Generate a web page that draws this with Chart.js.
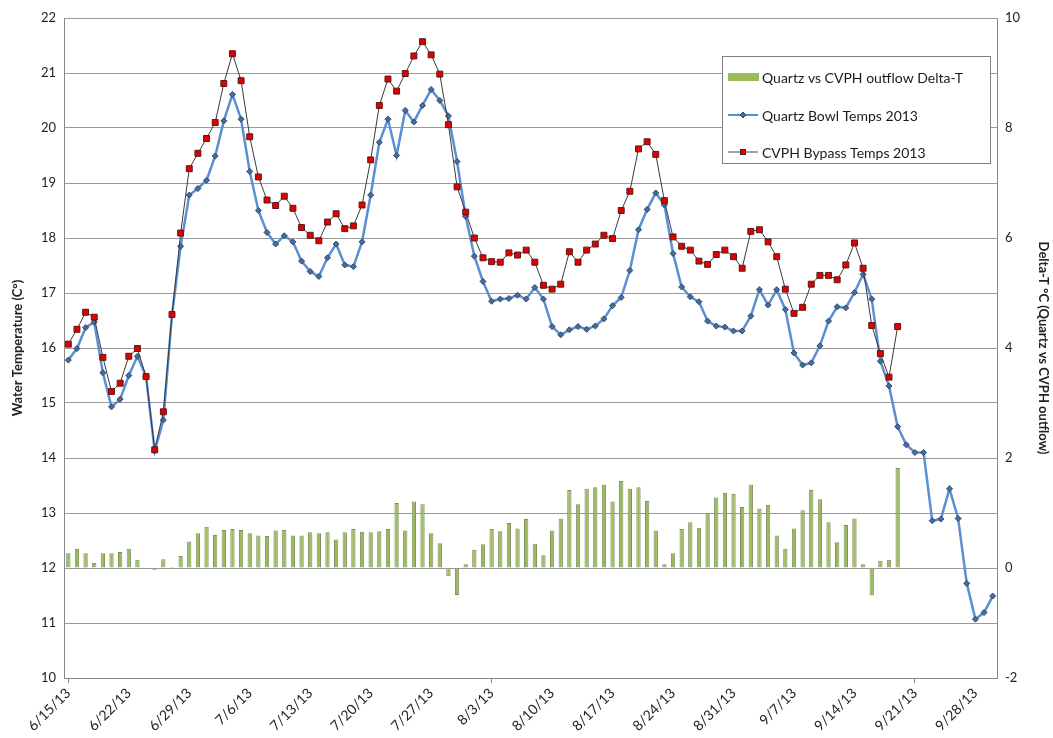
<!DOCTYPE html>
<html>
<head>
<meta charset="utf-8">
<script src="https://cdn.jsdelivr.net/npm/chart.js@4.4.0/dist/chart.umd.min.js"></script>
<style>
  html, body { margin: 0; padding: 0; background: #fff; }
</style>
</head>
<body>
<canvas id="myChart" width="1053" height="738"></canvas>
<script>
// daily categories 6/15/13 .. 9/30/13
const dates = [];
for (let i = 0; i < 108; i++) {
  const d = new Date(2013, 5, 15 + i);
  dates.push((d.getMonth() + 1) + '/' + d.getDate() + '/13');
}
const tickDates = ['6/15/13','6/22/13','6/29/13','7/6/13','7/13/13','7/20/13','7/27/13','8/3/13',
  '8/10/13','8/17/13','8/24/13','8/31/13','9/7/13','9/14/13','9/21/13','9/28/13'];

const quartzTemps = [15.78,15.99,16.37,16.47,15.55,14.93,15.07,15.50,15.85,15.48,
  14.13,14.69,16.60,17.85,18.78,18.90,19.05,19.49,20.13,20.61,
  20.16,19.21,18.50,18.10,17.89,18.04,17.93,17.58,17.39,17.30,
  17.64,17.89,17.51,17.48,17.93,18.78,19.74,20.16,19.50,20.32,
  20.11,20.41,20.70,20.50,20.22,19.39,18.39,17.67,17.21,16.85,
  16.89,16.90,16.96,16.89,17.10,16.89,16.39,16.24,16.33,16.39,
  16.34,16.40,16.53,16.77,16.92,17.41,18.15,18.52,18.82,18.60,
  17.72,17.11,16.93,16.84,16.49,16.40,16.38,16.31,16.31,16.58,
  17.06,16.78,17.06,16.70,15.91,15.69,15.73,16.04,16.49,16.75,
  16.73,17.01,17.34,16.89,15.76,15.31,14.57,14.24,14.10,14.10,
  12.86,12.89,13.44,12.90,11.72,11.07,11.19,11.49];

const cvphTemps = [16.07,16.34,16.65,16.56,15.83,15.21,15.36,15.85,15.99,15.48,
  14.15,14.84,16.61,18.09,19.26,19.54,19.81,20.10,20.81,21.35,
  20.86,19.84,19.11,18.69,18.59,18.76,18.54,18.19,18.05,17.95,
  18.29,18.44,18.17,18.22,18.60,19.42,20.41,20.89,20.67,20.99,
  21.31,21.57,21.33,20.98,20.06,18.93,18.47,18.00,17.64,17.57,
  17.56,17.73,17.69,17.78,17.56,17.14,17.07,17.16,17.75,17.56,
  17.78,17.89,18.05,17.99,18.50,18.85,19.62,19.75,19.52,18.68,
  18.02,17.85,17.78,17.58,17.52,17.70,17.78,17.66,17.45,18.12,
  18.15,17.93,17.66,17.07,16.63,16.74,17.16,17.32,17.32,17.24,
  17.51,17.91,17.45,16.41,15.90,15.47,16.39];

const deltaT = [0.27,0.35,0.27,0.09,0.27,0.27,0.29,0.35,0.15,-0.01,
  -0.03,0.16,0.02,0.22,0.48,0.63,0.75,0.60,0.69,0.71,
  0.69,0.63,0.59,0.58,0.68,0.69,0.59,0.59,0.65,0.63,
  0.65,0.52,0.65,0.71,0.66,0.65,0.67,0.71,1.18,0.68,
  1.21,1.16,0.63,0.45,-0.15,-0.49,0.07,0.33,0.43,0.71,
  0.67,0.82,0.72,0.89,0.44,0.23,0.68,0.90,1.42,1.16,
  1.44,1.47,1.52,1.21,1.58,1.44,1.47,1.22,0.68,0.07,
  0.27,0.71,0.83,0.73,1.00,1.28,1.37,1.35,1.11,1.52,
  1.08,1.15,0.59,0.35,0.72,1.05,1.42,1.25,0.83,0.47,
  0.78,0.90,0.07,-0.50,0.13,0.15,1.82];

const fontFam = 'Lato, "Liberation Sans", sans-serif';
Chart.defaults.font.family = fontFam;
Chart.defaults.font.size = 13;
Chart.defaults.color = '#222';

// legend box drawn inside the plot, like the spreadsheet one
const boxLegend = {
  id: 'boxLegend',
  afterDatasetsDraw(chart) {
    const c = chart.ctx;
    const x = 722, y = 56, w = 268, h = 107;
    c.save();
    c.fillStyle = '#fff';
    c.fillRect(x, y, w, h);
    c.strokeStyle = '#808080';
    c.lineWidth = 1;
    c.strokeRect(x + 0.5, y + 0.5, w, h);
    c.font = '14px ' + fontFam;
    c.textBaseline = 'middle';
    const rows = [77, 115, 152];
    // bar swatch
    c.fillStyle = '#9BBB59';
    c.fillRect(728, rows[0] - 4, 31, 8);
    // quartz line
    c.strokeStyle = '#5B8FD3'; c.lineWidth = 2;
    c.beginPath(); c.moveTo(728, rows[1]); c.lineTo(758, rows[1]); c.stroke();
    c.fillStyle = '#4A6C9B'; c.strokeStyle = '#2f4a70'; c.lineWidth = 1;
    c.beginPath(); c.moveTo(743, rows[1] - 3); c.lineTo(746, rows[1]); c.lineTo(743, rows[1] + 3); c.lineTo(740, rows[1]); c.closePath(); c.fill(); c.stroke();
    // cvph line
    c.strokeStyle = '#444'; c.lineWidth = 1;
    c.beginPath(); c.moveTo(728, rows[2]); c.lineTo(758, rows[2]); c.stroke();
    c.fillStyle = '#E00000'; c.strokeStyle = '#5a1a1a';
    c.fillRect(740, rows[2] - 3, 6, 6); c.strokeRect(740.5, rows[2] - 2.5, 5, 5);
    c.fillStyle = '#1a1a1a';
    const names = chart.data.datasets.map(d => d.label);
    names.forEach((n, i) => c.fillText(n, 762, rows[i] + 1));
    c.restore();
  }
};

const ctx = document.getElementById('myChart');
const waterChart = new Chart(ctx, {
  data: {
    labels: dates,
    datasets: [
      {
        type: 'bar',
        label: 'Quartz vs CVPH outflow Delta-T',
        data: deltaT,
        yAxisID: 'y1',
        backgroundColor: '#9BBB59',
        borderColor: '#7d8f64',
        borderWidth: 1,
        barPercentage: 0.5,
        categoryPercentage: 1,
        order: 3
      },
      {
        type: 'line',
        label: 'Quartz Bowl Temps 2013',
        data: quartzTemps,
        yAxisID: 'y',
        borderColor: '#5B8FD3',
        borderWidth: 2.5,
        pointStyle: 'rectRot',
        pointRadius: 3,
        pointBackgroundColor: '#4A6C9B',
        pointBorderColor: '#2f4a70',
        pointBorderWidth: 1,
        tension: 0,
        order: 2
      },
      {
        type: 'line',
        label: 'CVPH Bypass Temps 2013',
        data: cvphTemps,
        yAxisID: 'y',
        borderColor: '#3a3a3a',
        borderWidth: 1,
        pointStyle: 'rect',
        pointRadius: 4.2,
        pointBackgroundColor: '#E00000',
        pointBorderColor: '#5a1a1a',
        pointBorderWidth: 1,
        tension: 0,
        order: 1
      }
    ]
  },
  options: {
    responsive: false,
    animation: false,
    layout: { padding: { top: 18, left: 0, right: 0, bottom: 0 } },
    plugins: { legend: { display: false }, tooltip: { enabled: false } },
    scales: {
      x: {
        type: 'category',
        offset: true,
        grid: {
          offset: false,
          drawOnChartArea: false,
          drawTicks: true,
          tickLength: 5,
          color: c => tickDates.includes(dates[c.index]) ? '#888' : 'rgba(0,0,0,0)'
        },
        border: { color: '#888' },
        ticks: {
          autoSkip: false,
          maxRotation: 45,
          minRotation: 45,
          padding: 2,
          font: { size: 14 },
          callback: (v, i) => tickDates.includes(dates[i]) ? dates[i] : null
        },
        afterFit: s => { s.height = 60; }
      },
      y: {
        position: 'left',
        min: 10,
        max: 22,
        ticks: { stepSize: 1, padding: 8 },
        grid: { color: '#9a9a9a', drawTicks: false },
        border: { color: '#888' },
        title: { display: true, text: 'Water Temperature (C°)', font: { weight: 'bold', size: 13 }, padding: { top: 10, bottom: 0 } },
        afterFit: s => { s.width = 64; }
      },
      y1: {
        position: 'right',
        min: -2,
        max: 10,
        ticks: { stepSize: 2, padding: 8 },
        grid: { drawOnChartArea: false, drawTicks: false },
        border: { color: '#888' },
        title: { display: true, text: 'Delta-T °C (Quartz vs CVPH outflow)', font: { weight: 'bold', size: 13 }, padding: { top: 2, bottom: 0 } },
        afterFit: s => { s.width = 56; }
      }
    }
  },
  plugins: [boxLegend]
});
</script>
</body>
</html>
